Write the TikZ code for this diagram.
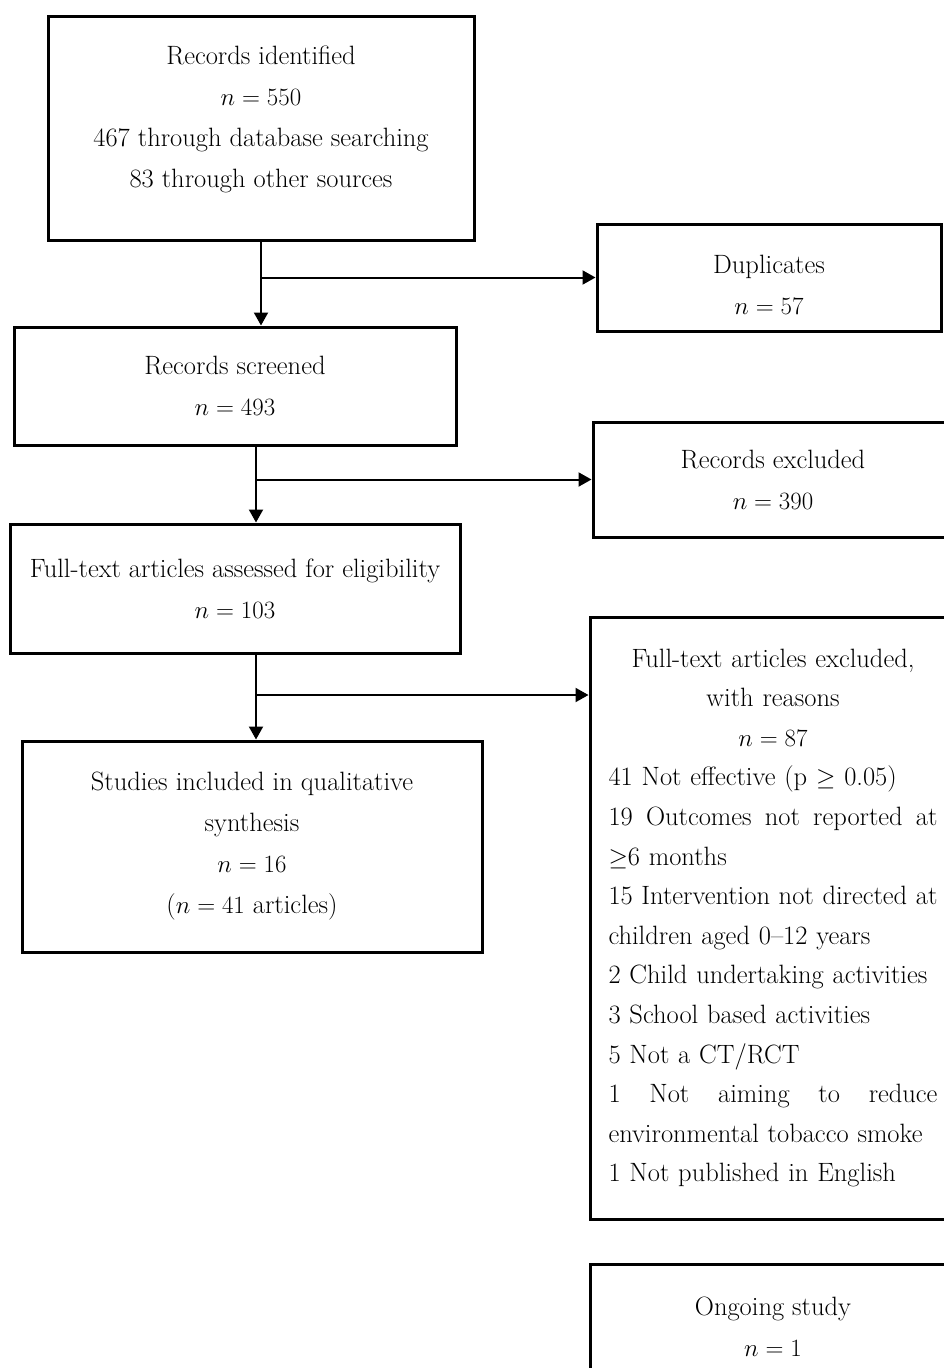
\documentclass[tikz,border=0pt]{standalone}
\usepackage{amsmath,amssymb}
\usetikzlibrary{arrows.meta}
\newcommand{\wideline}[1]{\leavevmode\hbox to 329pt{#1}}
\newcommand{\midline}[1]{\makebox[329pt][c]{#1}}
\tikzset{
  stage/.style={draw, line width=3pt, align=center, inner sep=0pt,
    font=\fontsize{26.5}{41}\selectfont},
}
\begin{document}
\begin{tikzpicture}[x=1pt, y=-1pt, line width=2pt, >={Triangle[length=13pt,width=14pt]}]
         \useasboundingbox (0,0) rectangle (944,1368);
         \clip (0,0) rectangle (944,1368);
         % left column
         \node [stage, minimum width=426pt, minimum height=224pt] (ident) at (261,128)
               {Records identified\\ $n = 550$\\ 467 through database searching\\ 83 through other sources\\[-19pt]\mbox{}};
         \node [stage, minimum width=442pt, minimum height=118pt] (screen) at (235,386)
               {Records screened\\ $n = 493$};
         \node [stage, minimum width=450pt, minimum height=129pt] (assess) at (235,588.5)
               {Full-text articles assessed for eligibility\\ $n = 103$};
         \node [stage, minimum width=460pt, minimum height=211pt] (incl) at (252,846.5)
               {Studies included in qualitative\\ synthesis\\ $n = 16$\\ ($n = 41$ articles)};
         % right column
         \node [stage, minimum width=344pt, minimum height=107pt] (dup) at (769,277.5)
               {\mbox{}\\[-9pt] Duplicates\\ $n = 57$};
         \node [stage, minimum width=360pt, minimum height=115pt] (recexcl) at (773,479.5)
               {Records excluded\\ $n = 390$};
         \node [stage, minimum width=366pt, minimum height=602pt, align=left, text width=329pt,
                font=\fontsize{26.5}{39.6}\selectfont] (ftexcl) at (773,918)
               {\midline{Full-text articles excluded,}\\
                \midline{with reasons}\\
                \midline{$n = 87$}\\
                41 Not effective (p~$\geq$~0.05)\\
                \wideline{19\hfill Outcomes\hfill not\hfill reported\hfill at}\\
                $\geq$6 months\\
                \wideline{15\hfill Intervention\hfill not\hfill directed\hfill at}\\
                children aged 0--12 years\\
                2 Child undertaking activities\\
                3 School based activities\\
                5 Not a CT/RCT\\
                \wideline{1\hfill Not\hfill aiming\hfill to\hfill reduce}\\
                environmental tobacco smoke\\
                1 Not published in English};
         \node [stage, minimum width=366pt, minimum height=125pt] (ongoing) at (773,1326.5)
               {Ongoing study\\ $n = 1$};
         % branch points
         \coordinate (k2) at (256,445);
         \coordinate (k3) at (256,653);
         \coordinate (k3b) at (256,695);
         % connectors
         \draw [->] (ident.south) -- (ident.south |- screen.north);
         \draw [->] (ident.south |- dup.west) -- (dup.west);
         \draw [->] (k2) -- (k2 |- assess.north);
         \draw [->] (k2 |- recexcl.west) -- (recexcl.west);
         \draw [->] (k3) -- (k3 |- incl.north);
         \draw [->] (k3b) -- (k3b -| ftexcl.west);
\end{tikzpicture}
\end{document}
